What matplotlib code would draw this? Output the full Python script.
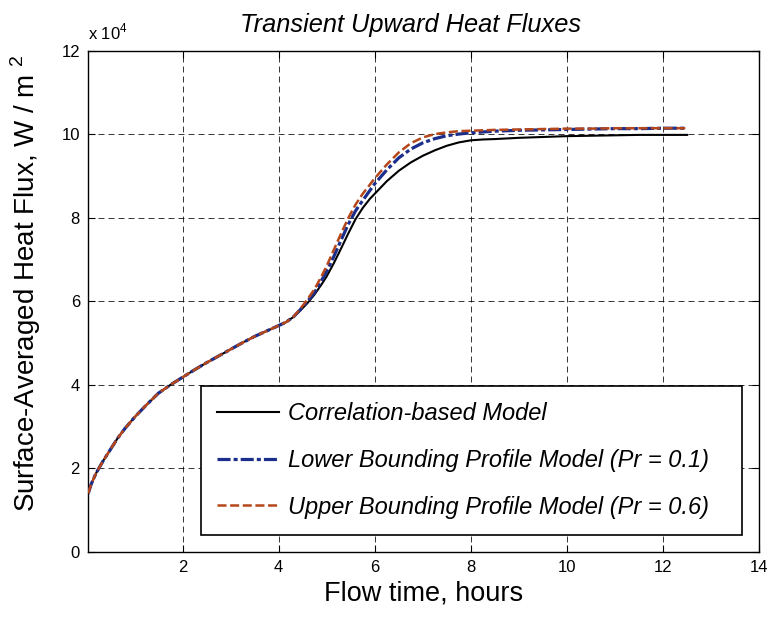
import matplotlib
matplotlib.use("Agg")
import matplotlib.pyplot as plt

plt.rcParams["font.family"] = ["Liberation Sans", "DejaVu Sans"]
plt.rcParams["mathtext.fontset"] = "custom"
plt.rcParams["mathtext.rm"] = "Liberation Sans"
plt.rcParams["lines.scale_dashes"] = False

# flow time, hours
hours_early = [0.04, 0.1, 0.2, 0.35, 0.5, 0.65, 0.8, 1.0, 1.25, 1.5,
               1.75, 2.0, 2.25, 2.5, 2.75, 3.0, 3.25, 3.5, 3.75, 4.0, 4.15, 4.3]
hours_late = [4.45, 4.6, 4.75, 4.9, 5.0, 5.15, 5.3, 5.45, 5.6, 5.75,
              5.9, 6.0, 6.25, 6.5, 6.75, 7.0, 7.25, 7.5, 7.75, 8.0,
              8.25, 8.5, 9.0, 9.5, 10.0, 10.5, 11.0, 11.5, 12.0, 12.5]
hours = hours_early + hours_late

# heat flux, x 10^4 W/m^2 (all three models coincide up to ~4.3 h)
flux_early = [1.40, 1.62, 1.88, 2.18, 2.45, 2.72, 2.95, 3.22, 3.52, 3.80,
              4.00, 4.18, 4.36, 4.53, 4.69, 4.85, 5.01, 5.16, 5.29, 5.42, 5.50, 5.62]
correlation_late = [5.78, 5.96, 6.17, 6.42, 6.60, 6.92, 7.27, 7.63, 7.97, 8.24,
                    8.46, 8.58, 8.88, 9.13, 9.33, 9.49, 9.62, 9.73, 9.81, 9.86,
                    9.88, 9.89, 9.92, 9.94, 9.96, 9.97, 9.98, 9.99, 9.99, 9.99]
lower_late = [5.80, 6.00, 6.22, 6.52, 6.72, 7.08, 7.47, 7.85, 8.17, 8.42,
              8.66, 8.82, 9.15, 9.44, 9.65, 9.80, 9.90, 9.97, 10.01, 10.04,
              10.06, 10.08, 10.10, 10.11, 10.12, 10.13, 10.14, 10.14, 10.15, 10.15]
upper_late = [5.82, 6.05, 6.30, 6.62, 6.85, 7.24, 7.63, 8.00, 8.32, 8.58,
              8.80, 8.95, 9.28, 9.57, 9.79, 9.93, 10.01, 10.05, 10.08, 10.09,
              10.10, 10.11, 10.12, 10.13, 10.14, 10.14, 10.15, 10.15, 10.15, 10.15]

correlation = flux_early + correlation_late
lower_pr01 = flux_early + lower_late
upper_pr06 = flux_early + upper_late

labels = ["Correlation-based Model",
          "Lower Bounding Profile Model (Pr = 0.1)",
          "Upper Bounding Profile Model (Pr = 0.6)"]

fig = plt.figure(figsize=(7.72, 6.17), dpi=100)
ax = fig.add_axes([0.1144, 0.1058, 0.8691, 0.8115])

ax.plot(hours, correlation, color="black", lw=1.5, label=labels[0], zorder=3)
ax.plot(hours, lower_pr01, color="#1c2e8c", lw=2.3, linestyle=(0, (9.4, 2.2, 2.9, 2.2)),
        dash_capstyle="butt", label=labels[1], zorder=4)
ax.plot(hours, upper_pr06, color="#b5471b", lw=1.8, linestyle=(0, (6.5, 2.6)),
        dash_capstyle="butt", label=labels[2], zorder=5)

ax.set_xlim(0.04, 14)
ax.set_ylim(0, 12)
ax.set_xticks(range(2, 15, 2))
ax.set_yticks(range(0, 13, 2))
ax.tick_params(direction="in", length=5, width=0.8, labelsize=12, top=True, right=True, pad=6)
ax.grid(True, color="black", lw=0.7, linestyle=(0, (4.3, 2.9)), alpha=0.8)
for s in ax.spines.values():
    s.set_linewidth(1.0)

ax.set_title("Transient Upward Heat Fluxes", fontsize=18.3, style="italic", pad=14, x=0.48)
ax.set_xlabel("Flow time, hours", fontsize=19.5, labelpad=4)
fig.text(26 / 772, 1 - 283 / 617, r"Surface-Averaged Heat Flux, W / m $^{\mathregular{2}}$",
         rotation=90, ha="center", va="center", fontsize=20)
fig.text(88 / 772, 1 - 39 / 617, r"x 10$^{\mathregular{4}}$", fontsize=12)

leg = ax.legend(loc="lower left", bbox_to_anchor=(0.1675, 0.0333, 0.8072, 0.30), mode="expand",
                prop={"style": "italic", "size": 17}, frameon=True, fancybox=False,
                edgecolor="black", framealpha=1, borderaxespad=0, handlelength=2.6,
                handletextpad=0.4, labelspacing=1.0, borderpad=0.7)
leg.get_frame().set_linewidth(1.2)
leg.set_zorder(10)

fig.savefig("out.png", dpi=100)
